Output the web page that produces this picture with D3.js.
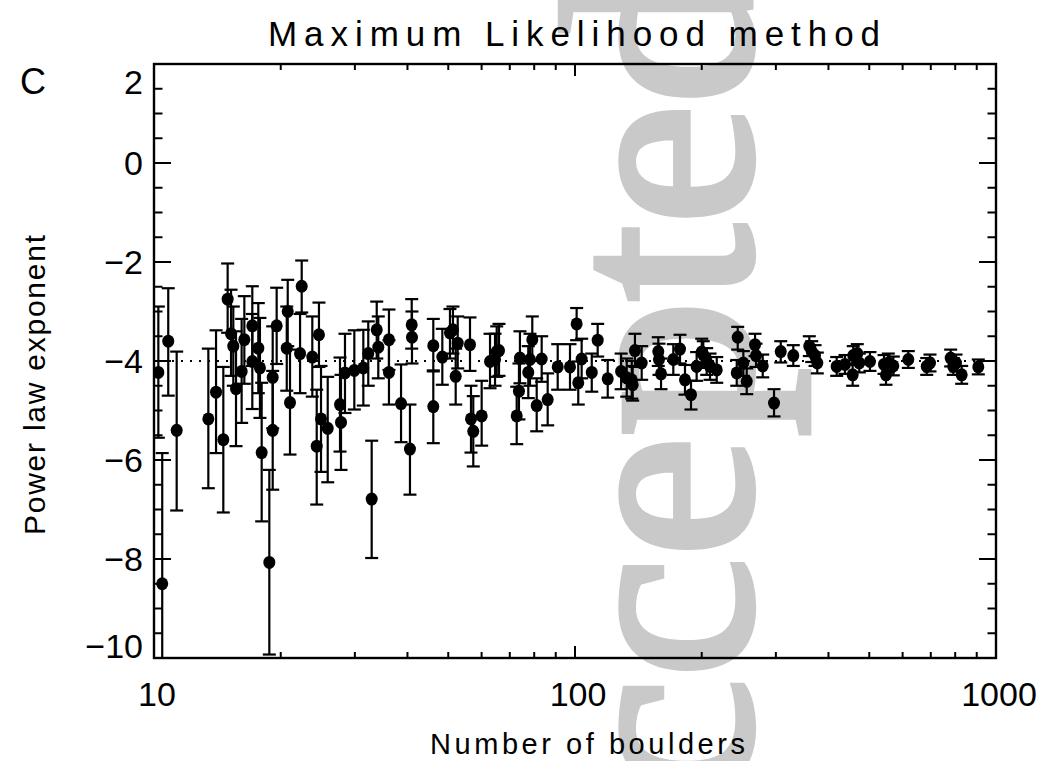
<!DOCTYPE html>
<meta charset="utf-8">
<script src="https://d3js.org/d3.v7.min.js"></script>
<style>
  body { margin: 0; background: #fff; }
  text { font-family: "Liberation Sans", Arial, sans-serif; fill: #000; }
</style>
<body>
<div id="chart"></div>
<script>
// number of boulders in each sample
var nBoulders = [10.24, 10.46, 10.81, 11.32, 13.46, 14.04, 14.61, 14.96, 15.24, 15.43,
  15.66, 16.15, 16.39, 17.12, 17.12, 17.69, 17.85, 18.02, 18.79, 19.14,
  19.14, 19.56, 20.78, 20.67, 21.04, 22.43, 22.23, 23.77, 24.65, 24.35,
  24.93, 25.86, 27.66, 27.81, 28.42, 29.91, 31.42, 32.28, 32.89, 33.81,
  34.10, 36.15, 36.15, 38.62, 40.55, 40.94, 41.0, 46.07, 46.07, 48.4,
  50.47, 51.3, 52.07, 52.65, 56.31, 56.62, 57.33, 60.02, 62.83, 64.57,
  65.17, 65.99, 72.7, 73.6, 74.0, 77.45, 78.17, 79.17, 81.1, 83.34,
  86.12, 90.97, 97.3, 100.9, 101.8, 103.7, 109.6, 113.2, 119.6, 128.7,
  132.7, 136.4, 137.1, 138.8, 144.0, 157.7, 158.3, 160.1, 171.2, 177.6,
  182.5, 188.6, 194.5, 200.0, 201.7, 205.5, 209.3, 217.1, 243.5, 242.2,
  251.1, 255.8, 267.7, 269.1, 279.2, 297.0, 308.1, 330.0, 360.2, 365.0,
  371.7, 376.3, 418.4, 437.8, 456.6, 458.1, 468.3, 473.4, 501.9, 542.0,
  547.9, 554.9, 570.3, 619.0, 684.6, 697.0, 780.4, 791.6, 803.5, 828.8,
  907.7];

// fitted power law exponent
var slope = [-4.23, -8.50, -3.60, -5.40, -5.17, -4.63, -5.59, -2.75, -3.45, -3.70,
  -4.56, -4.21, -3.57, -3.29, -4.01, -3.74, -4.14, -5.85, -8.07, -4.33,
  -5.40, -3.29, -3.00, -3.74, -4.84, -2.49, -3.85, -3.92, -3.47, -5.72,
  -5.17, -5.36, -4.88, -5.24, -4.24, -4.19, -4.14, -3.85, -6.79, -3.37,
  -3.72, -3.57, -4.23, -4.86, -5.78, -3.27, -3.52, -3.69, -4.92, -3.92,
  -3.43, -3.37, -4.31, -3.64, -3.67, -5.17, -5.42, -5.11, -4.01, -3.97,
  -3.81, -3.79, -5.11, -4.61, -3.94, -4.23, -3.97, -3.57, -4.90, -3.96,
  -4.78, -4.12, -4.12, -3.25, -4.44, -3.96, -4.23, -3.58, -4.36, -4.21,
  -4.34, -4.38, -4.48, -3.79, -4.04, -3.81, -3.97, -4.26, -3.97, -3.76,
  -4.38, -4.68, -4.11, -3.82, -3.87, -4.01, -4.11, -4.18, -3.52, -4.24,
  -4.04, -4.41, -3.67, -3.89, -4.10, -4.85, -3.81, -3.89, -3.70, -3.81,
  -3.89, -4.04, -4.11, -4.07, -4.28, -3.89, -3.85, -4.04, -4.01, -4.07,
  -4.28, -4.04, -4.10, -3.97, -4.11, -4.04, -3.94, -4.11, -4.04, -4.28,
  -4.12];

// upper end of each error bar
var slopeHi = [-2.90, -5.86, -2.53, -3.81, -3.75, -3.38, -4.12, -2.03, -2.56, -2.90,
  -3.40, -3.15, -2.69, -2.49, -3.05, -2.83, -3.13, -4.44, -6.20, -3.30,
  -4.20, -2.52, -2.36, -2.90, -3.77, -1.97, -3.05, -3.10, -2.82, -4.58,
  -4.10, -4.32, -3.93, -4.28, -3.45, -3.38, -3.37, -3.20, -5.61, -2.80,
  -3.10, -2.96, -3.58, -4.07, -4.88, -2.75, -3.00, -3.15, -4.21, -3.35,
  -2.95, -2.90, -3.75, -3.10, -3.12, -4.50, -4.71, -4.40, -3.45, -3.45,
  -3.30, -3.25, -4.52, -4.05, -3.40, -3.70, -3.45, -3.10, -4.35, -3.50,
  -4.25, -3.66, -3.66, -2.93, -4.01, -3.55, -3.85, -3.25, -3.98, -3.85,
  -3.95, -4.00, -4.10, -3.45, -3.70, -3.52, -3.65, -3.95, -3.66, -3.47,
  -4.08, -4.40, -3.82, -3.55, -3.60, -3.74, -3.85, -3.92, -3.31, -3.98,
  -3.80, -4.15, -3.45, -3.65, -3.87, -4.57, -3.60, -3.68, -3.50, -3.60,
  -3.68, -3.83, -3.92, -3.88, -4.07, -3.70, -3.66, -3.85, -3.82, -3.88,
  -4.08, -3.85, -3.91, -3.80, -3.94, -3.87, -3.77, -3.94, -3.87, -4.10,
  -3.97];

// lower end of each error bar
var slopeLo = [-5.55, -11.14, -4.70, -7.02, -6.57, -5.86, -7.06, -3.43, -4.30, -4.50,
  -5.72, -5.25, -4.46, -4.10, -4.97, -4.65, -5.15, -7.24, -9.93, -5.36,
  -6.60, -4.06, -3.70, -4.60, -5.89, -3.02, -4.65, -4.72, -4.12, -6.90,
  -6.24, -6.45, -5.83, -6.20, -5.05, -4.98, -4.90, -4.50, -7.98, -3.95,
  -4.35, -4.18, -4.88, -5.64, -6.70, -3.75, -4.05, -4.19, -5.66, -4.48,
  -3.95, -3.85, -4.88, -4.15, -4.20, -5.85, -6.13, -5.71, -4.55, -4.50,
  -4.32, -4.30, -5.68, -5.18, -4.45, -4.75, -4.50, -4.00, -5.42, -4.42,
  -5.30, -4.58, -4.58, -3.58, -4.88, -4.35, -4.62, -3.91, -4.74, -4.57,
  -4.72, -4.76, -4.80, -4.12, -4.38, -4.10, -4.28, -4.57, -4.28, -4.05,
  -4.68, -4.98, -4.40, -4.10, -4.14, -4.28, -4.38, -4.44, -3.77, -4.50,
  -4.30, -4.67, -3.90, -4.12, -4.33, -5.12, -4.03, -4.10, -3.90, -4.02,
  -4.10, -4.25, -4.30, -4.26, -4.50, -4.08, -4.04, -4.23, -4.20, -4.26,
  -4.48, -4.23, -4.29, -4.14, -4.28, -4.21, -4.11, -4.28, -4.21, -4.46,
  -4.27];

var refSlope = -4;
var yTicks = [-10, -8, -6, -4, -2, 0, 2];
var xTicks = [10, 100, 1000];

var W = 1043, H = 761;
var margin = {top: 64, right: 47, bottom: 103, left: 154};
var width = W - margin.left - margin.right,
    height = H - margin.top - margin.bottom;

var svg = d3.select("#chart").append("svg")
    .attr("width", W).attr("height", H)
    .style("background", "#fff");

// journal watermark, heavy grey serif running bottom to top
svg.append("text")
    .attr("transform", "translate(750,995) rotate(-90)")
    .style("font-family", "'Liberation Serif', 'DejaVu Serif', serif")
    .style("font-size", "272px")
    .style("fill", "#c9c9c9")
    .style("stroke", "#c9c9c9")
    .style("stroke-width", 7)
    .text("Accepted");

var g = svg.append("g")
    .attr("transform", "translate(" + margin.left + "," + margin.top + ")");

var x = d3.scaleLog().domain([10, 1000]).range([0, width]);
var y = d3.scaleLinear().domain([-10, 2]).range([height, 0]);

g.append("clipPath").attr("id", "clip")
  .append("rect").attr("width", width).attr("height", height);

// minor ticks
var xMinor = [];
[10, 100].forEach(function(d) { for (var k = 2; k < 10; k++) xMinor.push(d * k); });
var yMinor = d3.range(-10, 2.01, 0.5).filter(function(d) { return d % 2 !== 0; });

var ticks = g.append("g").attr("stroke", "#000").attr("stroke-width", 2);
function xTick(d, len) {
  ticks.append("line").attr("x1", x(d)).attr("x2", x(d)).attr("y1", height).attr("y2", height - len);
  ticks.append("line").attr("x1", x(d)).attr("x2", x(d)).attr("y1", 0).attr("y2", len);
}
function yTick(d, len) {
  ticks.append("line").attr("y1", y(d)).attr("y2", y(d)).attr("x1", 0).attr("x2", len);
  ticks.append("line").attr("y1", y(d)).attr("y2", y(d)).attr("x1", width).attr("x2", width - len);
}
xMinor.forEach(function(d) { xTick(d, 6); });
xTicks.forEach(function(d) { xTick(d, 12); });
yMinor.forEach(function(d) { yTick(d, 8.5); });
yTicks.forEach(function(d) { yTick(d, 17); });

// reference line
g.append("line")
    .attr("x1", 0).attr("x2", width)
    .attr("y1", y(refSlope)).attr("y2", y(refSlope))
    .attr("stroke", "#000").attr("stroke-width", 2)
    .attr("stroke-dasharray", "2,7");

var data = nBoulders.map(function(n, i) {
  return {n: n, v: slope[i], hi: slopeHi[i], lo: slopeLo[i]};
});

var pts = g.append("g").attr("clip-path", "url(#clip)");
var bars = pts.append("g").attr("stroke", "#000").attr("stroke-width", 2.2);
data.forEach(function(d) {
  var cx = x(d.n);
  bars.append("line").attr("x1", cx).attr("x2", cx).attr("y1", y(d.hi)).attr("y2", y(d.lo));
  bars.append("line").attr("x1", cx - 6.5).attr("x2", cx + 6.5).attr("y1", y(d.hi)).attr("y2", y(d.hi));
  bars.append("line").attr("x1", cx - 6.5).attr("x2", cx + 6.5).attr("y1", y(d.lo)).attr("y2", y(d.lo));
});
pts.selectAll("ellipse").data(data).enter().append("ellipse")
    .attr("cx", function(d) { return x(d.n); })
    .attr("cy", function(d) { return y(d.v); })
    .attr("rx", 6).attr("ry", 6.5)
    .attr("fill", "#000");

// frame
g.append("rect").attr("width", width).attr("height", height)
    .attr("fill", "none").attr("stroke", "#000").attr("stroke-width", 2.4);

// tick labels
g.selectAll(".ylab").data(yTicks).enter().append("text")
    .attr("class", "ylab")
    .attr("x", -11)
    .attr("y", function(d) {
      var py = y(d) + 12;
      if (d === 2) py += 18;
      if (d === -10) py -= 12;
      return py;
    })
    .attr("text-anchor", "end")
    .style("font-size", "34px")
    .text(function(d) { return d < 0 ? "\u2212" + Math.abs(d) : d; });

g.selectAll(".xlab").data(xTicks).enter().append("text")
    .attr("class", "xlab")
    .attr("x", function(d) { return x(d) + 3; })
    .attr("y", height + 48)
    .attr("text-anchor", "middle")
    .style("font-size", "34px")
    .text(function(d) { return d; });

// titles
svg.append("text")
    .attr("x", 268).attr("y", 46)
    .attr("textLength", 612).attr("lengthAdjust", "spacing")
    .style("font-size", "35px")
    .text("Maximum Likelihood method");

svg.append("text")
    .attr("x", 430).attr("y", 754)
    .attr("textLength", 315).attr("lengthAdjust", "spacing")
    .style("font-size", "29px")
    .text("Number of boulders");

svg.append("text")
    .attr("transform", "translate(45,535) rotate(-90)")
    .attr("textLength", 300).attr("lengthAdjust", "spacing")
    .style("font-size", "30px")
    .text("Power law exponent");

svg.append("text")
    .attr("x", 20).attr("y", 94)
    .style("font-size", "36px")
    .text("C");
</script>
</body>
